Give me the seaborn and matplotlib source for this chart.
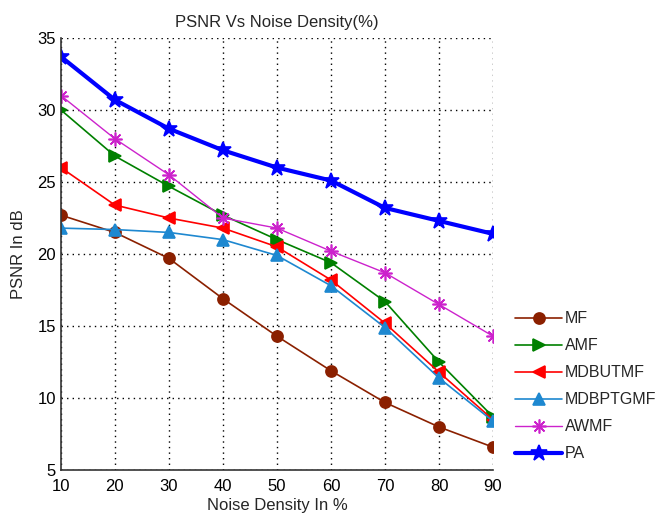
import matplotlib
matplotlib.use('Agg')
import matplotlib.pyplot as plt
import seaborn as sns
import pandas as pd

# dati
noise = [10, 20, 30, 40, 50, 60, 70, 80, 90]
mf = [22.7, 21.5, 19.7, 16.9, 14.3, 11.9, 9.7, 8.0, 6.6]
amf = [30.0, 26.8, 24.7, 22.7, 21.0, 19.4, 16.7, 12.5, 8.7]
mdbutmf = [26.0, 23.4, 22.5, 21.8, 20.5, 18.2, 15.2, 11.8, 8.5]
mdbptgmf = [21.8, 21.7, 21.5, 21.0, 19.9, 17.8, 14.9, 11.4, 8.4]
awmf = [31.0, 28.0, 25.5, 22.5, 21.8, 20.2, 18.7, 16.5, 14.3]
pa = [33.7, 30.7, 28.7, 27.2, 26.0, 25.1, 23.2, 22.3, 21.4]

sns.set_style('white')
plt.rcParams['font.family'] = ['Liberation Sans', 'DejaVu Sans']

df = pd.DataFrame({'noise': noise, 'MF': mf, 'AMF': amf, 'MDBUTMF': mdbutmf,
                   'MDBPTGMF': mdbptgmf, 'AWMF': awmf, 'PA': pa})

# colore, marker, dimensione marker, spessore linea
stili = {
    'MF': ('#8B2000', 'o', 8, 1.2),
    'AMF': ('#008000', '>', 8, 1.2),
    'MDBUTMF': ('#FF0000', '<', 8, 1.2),
    'MDBPTGMF': ('#1E88D0', '^', 8, 1.2),
    'AWMF': ('#CC22CC', (8, 2, 0), 10, 1.0),
    'PA': ('#0000FF', '*', 12, 3.0),
}

fig = plt.figure(figsize=(6.69, 5.19), dpi=100)
ax = fig.add_axes([0.091, 0.094, 0.646, 0.833])

for nome, (col, mk, ms, lw) in stili.items():
    sns.lineplot(data=df, x='noise', y=nome, ax=ax, color=col, marker=mk,
                 markersize=ms, linewidth=lw, markeredgecolor=col,
                 markerfacecolor=col, markeredgewidth=1.2, label=nome)

ax.set_xlim(10, 90)
ax.set_ylim(5, 35)
ax.set_xticks(noise)
ax.set_yticks([5, 10, 15, 20, 25, 30, 35])
ax.grid(True, linestyle=(0, (1, 3)), color='black', linewidth=1)
for s in ['top', 'right']:
    ax.spines[s].set_visible(False)
for s in ['left', 'bottom']:
    ax.spines[s].set_color('#333333')
    ax.spines[s].set_linewidth(1.2)
ax.tick_params(direction='in', length=3, labelsize=12, colors='black')
ax.tick_params(axis='x', pad=6)
ax.set_xlabel('Noise Density In %', fontsize=12, labelpad=3)
ax.set_ylabel('PSNR In dB', fontsize=12, labelpad=8)
ax.set_title('PSNR Vs Noise Density(%)', fontsize=12, pad=8)

ax.legend(loc='upper left', bbox_to_anchor=(1.035, 0.382), frameon=False,
          fontsize=11.5, handlelength=3.0, labelspacing=0.75, handletextpad=0.15,
          borderaxespad=0)

fig.savefig('out.png', dpi=100)
